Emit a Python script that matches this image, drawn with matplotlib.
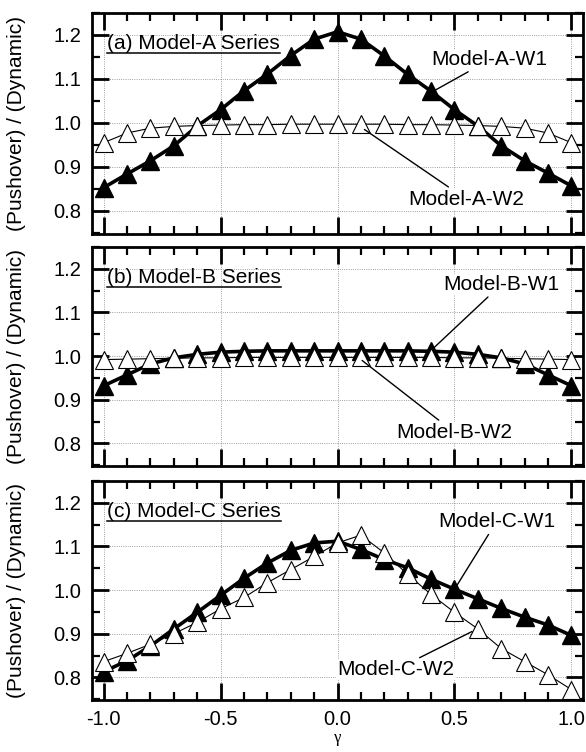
import numpy as np
import matplotlib.pyplot as plt
from matplotlib.ticker import MultipleLocator
from matplotlib.lines import Line2D

plt.rcParams['font.family'] = ['Liberation Sans', 'DejaVu Sans']

gamma = [-1.0, -0.9, -0.8, -0.7, -0.6, -0.5, -0.4, -0.3, -0.2, -0.1, 0.0,
         0.1, 0.2, 0.3, 0.4, 0.5, 0.6, 0.7, 0.8, 0.9, 1.0]

a_w1 = [0.853, 0.884, 0.914, 0.948, 0.993, 1.030, 1.073, 1.111, 1.153, 1.190, 1.207,
        1.190, 1.152, 1.110, 1.072, 1.030, 0.993, 0.948, 0.914, 0.886, 0.857]
a_w2 = [0.955, 0.977, 0.988, 0.992, 0.994, 0.995, 0.996, 0.996, 0.997, 0.997, 0.997,
        0.997, 0.997, 0.996, 0.996, 0.995, 0.994, 0.992, 0.988, 0.977, 0.955]

b_w1 = [0.932, 0.957, 0.982, 0.996, 1.004, 1.009, 1.011, 1.012, 1.012, 1.012, 1.012,
        1.012, 1.012, 1.012, 1.011, 1.009, 1.004, 0.996, 0.982, 0.957, 0.932]
b_w2 = [0.992, 0.993, 0.994, 0.995, 0.996, 0.996, 0.997, 0.997, 0.997, 0.997, 0.997,
        0.997, 0.997, 0.997, 0.997, 0.996, 0.996, 0.995, 0.994, 0.993, 0.992]

c_w1 = [0.813, 0.838, 0.872, 0.911, 0.949, 0.988, 1.027, 1.062, 1.091, 1.108, 1.112,
        1.093, 1.070, 1.051, 1.025, 1.002, 0.980, 0.958, 0.938, 0.920, 0.896]
c_w2 = [0.836, 0.855, 0.876, 0.900, 0.926, 0.957, 0.983, 1.017, 1.047, 1.077, 1.108,
        1.126, 1.085, 1.036, 0.990, 0.949, 0.911, 0.866, 0.836, 0.806, 0.772]

titles = ['(a) Model-A Series', '(b) Model-B Series', '(c) Model-C Series']
w1_names = ['Model-A-W1', 'Model-B-W1', 'Model-C-W1']
w2_names = ['Model-A-W2', 'Model-B-W2', 'Model-C-W2']

# label position, leader tip
w1_lab = [((0.65, 1.143), (0.42, 1.075)), ((0.70, 1.164), (0.41, 1.018)), ((0.68, 1.157), (0.505, 1.006))]
w2_lab = [((0.55, 0.827), (0.115, 0.985)), ((0.50, 0.825), (0.105, 0.990)), ((0.25, 0.818), (0.575, 0.905))]

series = [(a_w1, a_w2), (b_w1, b_w2), (c_w1, c_w2)]
boxes = [[0.157, 0.689, 0.838, 0.294],
         [0.157, 0.3803, 0.838, 0.2912],
         [0.157, 0.0691, 0.838, 0.2913]]

fig = plt.figure(figsize=(5.86, 7.52), dpi=100)
axes = []
for k in range(3):
    ax = fig.add_axes(boxes[k])
    axes.append(ax)
    w1, w2 = series[k]
    ax.plot(gamma, w1, '-', color='black', lw=2.6, marker='^', ms=12.5,
            mfc='black', mec='black', zorder=3)
    ax.plot(gamma, w2, '-', color='black', lw=0.8, marker='^', ms=12.5,
            mfc='white', mec='black', mew=0.8, zorder=4)

    ax.set_xlim(-1.05, 1.05)
    ax.set_ylim(0.748, 1.25)
    ax.xaxis.set_major_locator(MultipleLocator(0.5))
    ax.xaxis.set_minor_locator(MultipleLocator(0.1))
    ax.yaxis.set_major_locator(MultipleLocator(0.1))
    ax.yaxis.set_minor_locator(MultipleLocator(0.05))
    ax.xaxis.set_major_formatter(plt.FormatStrFormatter('%.1f'))
    ax.yaxis.set_major_formatter(plt.FormatStrFormatter('%.1f'))
    ax.grid(True, which='major', ls=':', color='gray', lw=0.6)
    ax.tick_params(which='both', direction='in', top=True, right=True, labelsize=14.5)
    ax.tick_params(which='major', length=12, width=2)
    ax.tick_params(which='minor', length=6, width=1.6)
    ax.tick_params(axis='y', pad=8)
    ax.tick_params(axis='x', pad=7)
    for s in ax.spines.values():
        s.set_linewidth(2)
    if k < 2:
        ax.tick_params(labelbottom=False)

    ax.set_ylabel('(Pushover) / (Dynamic)', fontsize=15)
    ax.yaxis.set_label_coords(-0.135, 0.5)

    ax.text(-0.985, 1.181, titles[k], fontsize=15, ha='left', va='center', zorder=6)

    (tx, ty), (px, py) = w1_lab[k]
    ax.annotate(w1_names[k], xy=(px, py), xytext=(tx, ty), fontsize=15,
                ha='center', va='center', zorder=6,
                bbox=dict(boxstyle='square,pad=0.05', fc='white', ec='none'),
                arrowprops=dict(arrowstyle='-', color='black', lw=1, shrinkA=2, shrinkB=0))
    (tx, ty), (px, py) = w2_lab[k]
    ax.annotate(w2_names[k], xy=(px, py), xytext=(tx, ty), fontsize=15,
                ha='center', va='center', zorder=6,
                bbox=dict(boxstyle='square,pad=0.05', fc='white', ec='none'),
                arrowprops=dict(arrowstyle='-', color='black', lw=1, shrinkA=2, shrinkB=0))

axes[2].set_xlabel('γ', fontsize=12, family=['Liberation Serif', 'DejaVu Serif'])
axes[2].xaxis.set_label_coords(0.5, -0.135)

# underline the panel titles
fig.canvas.draw()
renderer = fig.canvas.get_renderer()
for ax in axes:
    t = ax.texts[0]
    bb = t.get_window_extent(renderer).transformed(fig.transFigure.inverted())
    y = bb.y0 - 0.001
    fig.add_artist(Line2D([bb.x0, bb.x1], [y, y], color='black', lw=1.1,
                          transform=fig.transFigure))

fig.savefig('out.png', dpi=100)
